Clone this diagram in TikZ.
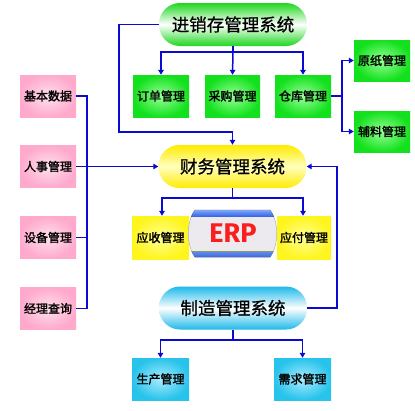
\documentclass[tikz,border=0pt]{standalone}
\usepackage{fontspec}
\newfontfamily\cjk[FakeBold=0.8]{Noto Sans CJK SC}
\newfontfamily\cjkb[FakeBold=1.8]{Noto Sans CJK SC}
\newfontfamily\erpfont{Fira Sans}
\usetikzlibrary{arrows.meta,calc}
\definecolor{lineblue}{RGB}{10,10,210}
\definecolor{gout}{RGB}{20,225,30}
\definecolor{gin}{RGB}{150,255,150}
\definecolor{pout}{RGB}{255,170,205}
\definecolor{pin}{RGB}{255,225,236}
\definecolor{yout}{RGB}{255,245,30}
\definecolor{yin}{RGB}{255,255,150}
\definecolor{cout}{RGB}{40,195,235}
\definecolor{cin}{RGB}{170,235,255}
\definecolor{capg}{RGB}{30,215,30}
\definecolor{capy}{RGB}{255,235,0}
\definecolor{capc}{RGB}{30,185,235}
\definecolor{erpgray}{RGB}{236,234,238}
\definecolor{bandblue}{RGB}{50,100,225}
\definecolor{bandlight}{RGB}{140,175,255}
\definecolor{erpred}{RGB}{250,30,30}
\tikzset{
  conn/.style={draw=lineblue, line width=1.5pt},
  arr/.style={conn, -{Triangle[length=5pt,width=5.5pt]}},
  capsule/.style={rectangle, rounded corners=21pt, minimum width=148pt, minimum height=43pt,
    inner sep=0pt, font=\cjk\fontsize{17.5}{18}\selectfont},
  gcap/.style={capsule, top color=capg, bottom color=capg, middle color=white},
  ycap/.style={capsule, top color=capy, bottom color=capy, middle color=yin!60!white},
  ccap/.style={capsule, top color=capc, bottom color=capc, middle color=white},
  box/.style={rectangle, minimum width=56pt, minimum height=42pt, inner sep=0pt,
    font=\cjkb\fontsize{12}{13}\selectfont},
  gbox/.style={box, inner color=gin, outer color=gout},
  pbox/.style={box, inner color=pin, outer color=pout},
  ybox/.style={box, inner color=yin, outer color=yout},
  cbox/.style={box, inner color=cin, outer color=cout},
}
\begin{document}
\begin{tikzpicture}[x=1pt,y=-1pt]
\useasboundingbox[fill=white] (0,0) rectangle (415,410);
% capsules
\node[gcap] (jxc) at (233,24.5) {进销存管理系统};
\node[ycap] (cw) at (232.5,166.5) {财务管理系统};
\node[ccap] (zz) at (233,308) {制造管理系统};
% green boxes
\node[gbox] (dd) at (161,96) {订单管理};
\node[gbox, minimum width=55pt] (cg) at (232.5,96) {采购管理};
\node[gbox] (ck) at (303,96) {仓库管理};
\node[gbox, minimum height=41pt] (yz) at (382,60.5) {原纸管理};
\node[gbox, minimum height=41pt] (fl) at (382,131.5) {辅料管理};
% pink boxes
\node[pbox] (jb) at (48,96) {基本数据};
\node[pbox] (rs) at (48,166.5) {人事管理};
\node[pbox] (sb) at (48,237.5) {设备管理};
\node[pbox] (jl) at (48,308.5) {经理查询};
% yellow boxes
\node[ybox, minimum width=57pt, minimum height=43pt] (ys) at (160.5,237.5) {应收管理};
\node[ybox, minimum width=54pt, minimum height=43pt] (yf) at (304,237.5) {应付管理};
% cyan boxes
\node[cbox, minimum width=57pt] (sc) at (160.5,379) {生产管理};
\node[cbox, minimum width=57pt] (xq) at (302.5,379) {需求管理};
% ERP badge
\path[fill=erpgray, draw=gray!55, line width=0.6pt] (195,210) -- (270,210) .. controls (279,222) and (279,245) .. (270,257) -- (195,257) .. controls (186,245) and (186,222) .. (195,210) -- cycle;
\begin{scope}
\clip (195,210) -- (270,210) .. controls (279,222) and (279,245) .. (270,257) -- (195,257) .. controls (186,245) and (186,222) .. (195,210) -- cycle;
\fill[top color=bandlight, bottom color=bandblue] (180,209) rectangle (285,216.5);
\fill[top color=bandblue!70!white, bottom color=bandblue] (180,250.5) rectangle (285,258);
\fill[yellow!60!white] (180,249.5) rectangle (285,250.6);
\end{scope}
\node[text=erpred, font=\erpfont\bfseries\fontsize{27}{27}\selectfont, inner sep=0pt] (erp) at (233,233) {ERP};
% coordinates
\coordinate (c1) at (119,132);
\coordinate (b1) at (233,52);
\coordinate (b2) at (342,96);
\coordinate (pbx) at (87,0);
\coordinate (b3) at (232.5,198);
\coordinate (r1) at (337,166.5);
\coordinate (b4) at (233,340);
% connectors
\draw[arr] (jxc.west) -| (c1) -| (cw.north);
\draw[conn] (jxc.south) -- (b1);
\draw[arr] (b1) -| (dd.north);
\draw[arr] (b1) -- (cg.north);
\draw[arr] (b1) -| (ck.north);
\draw[conn] (ck.east) -- (b2);
\draw[arr] (b2) |- (yz.west);
\draw[arr] (b2) |- (fl.west);
\draw[conn] (jb.east) -- (jb.east -| pbx) -- (jl.east -| pbx) -- (jl.east);
\draw[conn] (sb.east) -- (sb.east -| pbx);
\draw[arr] (rs.east) -- (cw.west);
\draw[conn] (cw.south) -- (b3);
\draw[arr] (b3) -| ([xshift=1.5pt]ys.north);
\draw[arr] (b3) -| ([xshift=-1pt]yf.north);
\draw[arr] (zz.east) -| (r1) -- (cw.east);
\draw[conn] (zz.south) -- (b4);
\draw[arr] (b4) -| (sc.north);
\draw[arr] (b4) -| (xq.north);
\end{tikzpicture}
\end{document}
